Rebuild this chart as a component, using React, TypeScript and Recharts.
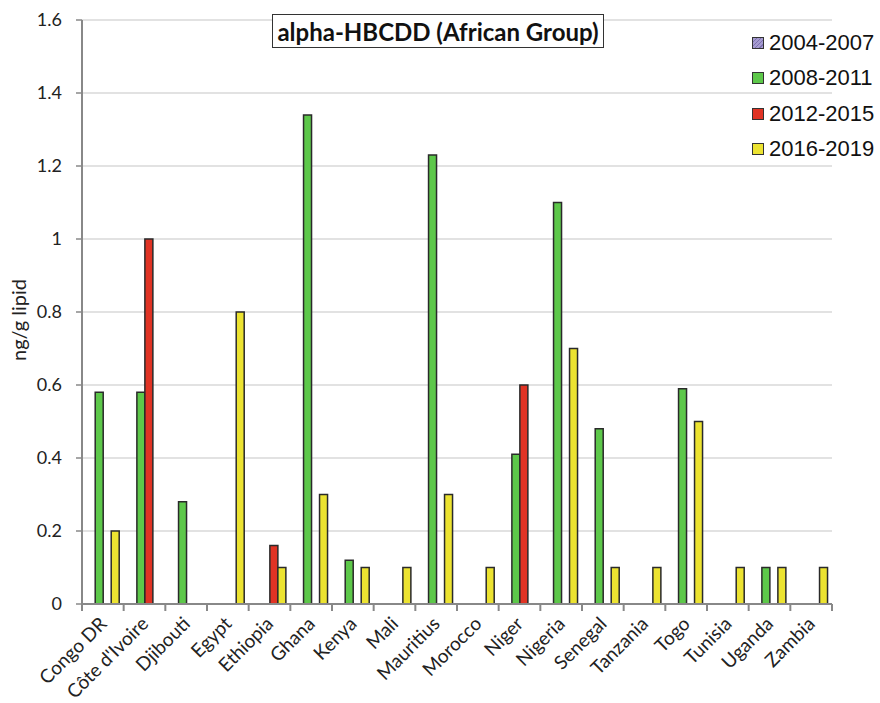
import React from 'react';
import { BarChart, Bar, XAxis, YAxis, CartesianGrid } from 'recharts';

const countries = [
  'Congo DR', "Côte d'Ivoire", 'Djibouti', 'Egypt', 'Ethiopia', 'Ghana', 'Kenya', 'Mali', 'Mauritius',
  'Morocco', 'Niger', 'Nigeria', 'Senegal', 'Tanzania', 'Togo', 'Tunisia', 'Uganda', 'Zambia',
];

const period2004 = [null, null, null, null, null, null, null, null, null, null, null, null, null, null, null, null, null, null];
const period2008 = [0.58, 0.58, 0.28, null, null, 1.34, 0.12, null, 1.23, null, 0.41, 1.1, 0.48, null, 0.59, null, 0.1, null];
const period2012 = [null, 1.0, null, null, 0.16, null, null, null, null, null, 0.6, null, null, null, null, null, null, null];
const period2016 = [0.2, null, null, 0.8, 0.1, 0.3, 0.1, 0.1, 0.3, 0.1, null, 0.7, 0.1, 0.1, 0.5, 0.1, 0.1, 0.1];

const yTicks = [0, 0.2, 0.4, 0.6, 0.8, 1, 1.2, 1.4, 1.6];

const series = [
  { key: 'p2004', name: '2004-2007', fill: 'url(#hatch)', swatch: 'repeating-linear-gradient(-45deg, #a59bd0 0 2px, #7d70ae 2px 3px)' },
  { key: 'p2008', name: '2008-2011', fill: '#5dc84a', swatch: '#5dc84a' },
  { key: 'p2012', name: '2012-2015', fill: '#e03324', swatch: '#e03324' },
  { key: 'p2016', name: '2016-2019', fill: '#ece331', swatch: '#ece331' },
];

const data = countries.map((country, i) => ({
  country,
  p2004: period2004[i],
  p2008: period2008[i],
  p2012: period2012[i],
  p2016: period2016[i],
}));

const CHART_W = 880;
const CHART_H = 703;
const MARGIN = { top: 20, right: 48, bottom: 0, left: 22 };
const Y_AXIS_W = 60;
const BAND = (CHART_W - MARGIN.left - MARGIN.right - Y_AXIS_W) / countries.length;

const XTick = (props: any) => {
  const { x, y, payload, index } = props;
  const half = BAND / 2;
  const tx = x + 5;
  const ty = y + 21;
  return (
    <g>
      <line x1={x - half} y1={y} x2={x - half} y2={y + 7} stroke="#888" strokeWidth={2} />
      {index === countries.length - 1 && (
        <line x1={x + half} y1={y} x2={x + half} y2={y + 7} stroke="#888" strokeWidth={2} />
      )}
      <text
        x={tx}
        y={ty}
        transform={`rotate(-45, ${tx}, ${ty})`}
        textAnchor="end"
        fontSize={19}
        fontFamily="Lato"
        fill="#222"
      >
        {payload.value}
      </text>
    </g>
  );
};

export default function App() {
  return (
    <div style={{ position: 'absolute', left: 0, top: 0, width: CHART_W, height: CHART_H, background: '#fff' }}>
      <BarChart
        width={CHART_W}
        height={CHART_H}
        data={data}
        margin={MARGIN}
        barCategoryGap="12.5%"
        barGap={0}
      >
        <defs>
          <pattern id="hatch" patternUnits="userSpaceOnUse" width="4" height="4" patternTransform="rotate(45)">
            <rect width="4" height="4" fill="#a59bd0" />
            <line x1="0" y1="0" x2="0" y2="4" stroke="#7d70ae" strokeWidth="1.5" />
          </pattern>
        </defs>
        <CartesianGrid vertical={false} stroke="#d9d9d9" strokeWidth={1.5} />
        <XAxis
          dataKey="country"
          interval={0}
          height={99}
          tickSize={0}
          tickMargin={0}
          tick={<XTick />}
          axisLine={{ stroke: '#888', strokeWidth: 2 }}
        />
        <YAxis
          width={Y_AXIS_W}
          domain={[0, 1.6]}
          ticks={yTicks}
          tickSize={6}
          tickMargin={14}
          tick={{ fontSize: 18, fontFamily: 'Lato', fill: '#222' }}
          tickLine={{ stroke: '#888', strokeWidth: 1.5 }}
          axisLine={{ stroke: '#888', strokeWidth: 2 }}
        />
        {series.map((s) => (
          <Bar
            key={s.key}
            dataKey={s.key}
            name={s.name}
            fill={s.fill}
            stroke="#2a2a2a"
            strokeWidth={1.5}
            isAnimationActive={false}
          />
        ))}
      </BarChart>
      <div style={{ position: 'absolute', left: 752, top: 25 }}>
        {series.map((s) => (
          <div key={s.key} style={{ display: 'flex', alignItems: 'center', height: 35.5 }}>
            <span
              style={{
                width: 10,
                height: 10,
                border: '1.5px solid #333',
                background: s.swatch,
                display: 'inline-block',
              }}
            />
            <span style={{ marginLeft: 5, fontSize: 22, fontFamily: 'Liberation Sans', color: '#111', whiteSpace: 'nowrap' }}>
              {s.name}
            </span>
          </div>
        ))}
      </div>
      <div
        style={{
          position: 'absolute',
          left: 272,
          top: 14,
          width: 330,
          height: 32,
          border: '1.5px solid #333',
          background: '#fff',
          display: 'flex',
          alignItems: 'center',
          justifyContent: 'center',
          fontFamily: 'Lato',
          fontWeight: 'bold',
          fontSize: 24,
          color: '#111',
        }}
      >
        alpha-HBCDD (African Group)
      </div>
      <div
        style={{
          position: 'absolute',
          left: 18,
          top: 320,
          transform: 'translate(-50%, -50%) rotate(-90deg)',
          whiteSpace: 'nowrap',
          fontFamily: 'Lato',
          fontSize: 20,
          color: '#222',
        }}
      >
        ng/g lipid
      </div>
    </div>
  );
}
